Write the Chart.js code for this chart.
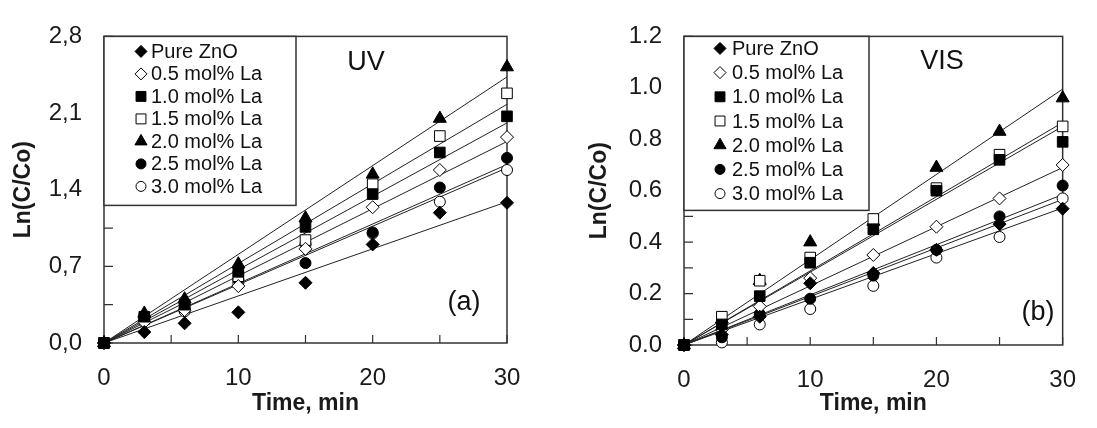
<!DOCTYPE html>
<html>
<head>
<meta charset="utf-8">
<script src="https://cdn.jsdelivr.net/npm/chart.js@4.4.0/dist/chart.umd.min.js"></script>
<style>
  html, body { margin: 0; padding: 0; background: #fff; }
  #wrap { position: relative; width: 1097px; height: 428px; }
  .panel { position: absolute; top: 0; height: 428px; }
</style>
</head>
<body>
<div id="wrap">
  <div class="panel" style="left:0;width:548px"><canvas id="uv"></canvas></div>
  <div class="panel" style="left:548px;width:549px"><canvas id="vis"></canvas></div>
</div>
<script>
// irradiation time, min
const times = [0, 3, 6, 10, 15, 20, 25, 30];
const seriesNames = ['Pure ZnO', '0.5 mol% La', '1.0 mol% La', '1.5 mol% La', '2.0 mol% La', '2.5 mol% La', '3.0 mol% La'];

// (a) UV, Ln(C/Co)
const uvPure = [0, 0.10, 0.18, 0.28, 0.55, 0.90, 1.19, 1.28];
const uv05   = [0, 0.19, 0.30, 0.52, 0.86, 1.24, 1.58, 1.88];
const uv10   = [0, 0.24, 0.35, 0.65, 1.06, 1.36, 1.74, 2.07];
const uv15   = [0, 0.22, 0.33, 0.61, 0.94, 1.45, 1.89, 2.28];
const uv20   = [0, 0.27, 0.40, 0.72, 1.14, 1.54, 2.05, 2.52];
const uv25   = [0, 0.23, 0.31, 0.58, 0.73, 1.01, 1.42, 1.69];
const uv30   = [0, 0.20, 0.29, 0.55, 0.90, 1.00, 1.29, 1.58];
// linear fits, value at 30 min
const uvFitEnd = [1.29, 1.84, 2.01, 2.18, 2.43, 1.63, 1.60];

// (b) VIS, Ln(C/Co)
const visPure = [0, 0.04, 0.11, 0.24, 0.28, 0.37, 0.47, 0.53];
const vis05   = [0, 0.06, 0.15, 0.26, 0.35, 0.46, 0.57, 0.70];
const vis10   = [0, 0.08, 0.19, 0.32, 0.45, 0.60, 0.72, 0.79];
const vis15   = [0, 0.11, 0.25, 0.34, 0.49, 0.61, 0.74, 0.85];
const vis20   = [0, 0.10, 0.25, 0.40, 0.48, 0.69, 0.83, 0.96];
const vis25   = [0, 0.03, 0.12, 0.18, 0.27, 0.37, 0.50, 0.62];
const vis30   = [0, 0.01, 0.08, 0.14, 0.23, 0.34, 0.42, 0.57];
const visFitEnd = [0.566, 0.69, 0.85, 0.865, 0.995, 0.585, 0.533];

// axis ticks (major + minor) and labels
const xTicks = [0, 5, 10, 15, 20, 25, 30];
const xLabels = ['0', '10', '20', '30'];
const uvYTicks = [0, 0.35, 0.7, 1.05, 1.4, 1.75, 2.1, 2.45, 2.8];
const uvYLabels = ['0,0', '0,7', '1,4', '2,1', '2,8'];
const visYTicks = [0, 0.1, 0.2, 0.3, 0.4, 0.5, 0.6, 0.7, 0.8, 0.9, 1.0, 1.1, 1.2];
const visYLabels = ['0.0', '0.2', '0.4', '0.6', '0.8', '1.0', '1.2'];

const markers = [
  { style: 'rectRot', fill: true, r: 6.5 },
  { style: 'rectRot', fill: false, r: 6.5 },
  { style: 'rect', fill: true, r: 7.5 },
  { style: 'rect', fill: false, r: 7.5 },
  { style: 'triangle', fill: true, r: 7.5 },
  { style: 'circle', fill: true, r: 5.5 },
  { style: 'circle', fill: false, r: 5.5 }
];

const FONT = '"Liberation Sans", Arial, sans-serif';
Chart.defaults.font.family = FONT;
Chart.defaults.color = '#1a1a1a';

const panelPlugin = {
  id: 'panel',
  beforeDatasetsDraw(chart, args, o) {
    const { ctx, chartArea: a, scales } = chart;
    ctx.save();
    ctx.strokeStyle = '#333';
    ctx.lineWidth = 1.5;
    ctx.strokeRect(a.left, a.top, a.right - a.left, a.bottom - a.top);
    ctx.lineWidth = 1.2;
    ctx.beginPath();
    scales.x.ticks.forEach(t => {
      const px = scales.x.getPixelForValue(t.value);
      ctx.moveTo(px, a.bottom);
      ctx.lineTo(px, a.bottom - 8);
    });
    scales.y.ticks.forEach(t => {
      const py = scales.y.getPixelForValue(t.value);
      ctx.moveTo(a.left, py);
      ctx.lineTo(a.left + 9, py);
    });
    ctx.stroke();
    ctx.restore();
  },
  afterDatasetsDraw(chart, args, o) {
    const { ctx, chartArea: a } = chart;
    const lg = o.legend;
    ctx.save();
    ctx.fillStyle = '#fff';
    ctx.fillRect(a.left, a.top, lg.w, lg.h);
    ctx.strokeStyle = '#333';
    ctx.lineWidth = 1.5;
    ctx.strokeRect(a.left, a.top, lg.w, lg.h);
    seriesNames.forEach((name, i) => {
      const m = markers[i];
      const y = a.top + lg.y0 + i * lg.step;
      ctx.fillStyle = m.fill ? '#000' : '#fff';
      ctx.strokeStyle = '#000';
      ctx.lineWidth = 1;
      Chart.helpers.drawPoint(ctx, { pointStyle: m.style, radius: m.r - 0.5, borderWidth: 1, rotation: 0 }, a.left + lg.mx, y);
      ctx.fillStyle = '#111';
      ctx.font = lg.size + 'px ' + FONT;
      ctx.textAlign = 'left';
      ctx.textBaseline = 'middle';
      ctx.fillText(name, a.left + lg.tx, y + 1);
    });
    ctx.font = '27px ' + FONT;
    ctx.textAlign = 'center';
    ctx.textBaseline = 'middle';
    ctx.fillStyle = '#111';
    o.notes.forEach(n => ctx.fillText(n.text, n.x, n.y));
    ctx.restore();
  }
};

function makePanel(id, p) {
  const datasets = [];
  p.series.forEach((vals, i) => {
    const m = markers[i];
    datasets.push({
      label: seriesNames[i],
      data: times.map((t, j) => ({ x: t, y: vals[j] })),
      showLine: false,
      pointStyle: m.style,
      pointRadius: m.r,
      pointBackgroundColor: m.fill ? '#000' : '#fff',
      pointBorderColor: '#000',
      pointBorderWidth: 1,
      clip: false,
      order: i === 2 ? -1 : 0
    });
  });
  p.fitEnd.forEach((v, i) => {
    datasets.push({
      label: seriesNames[i] + ' fit',
      data: [{ x: times[0], y: 0 }, { x: times[times.length - 1], y: v }],
      showLine: true,
      pointRadius: 0,
      borderColor: '#222',
      borderWidth: 1,
      order: 1
    });
  });

  new Chart(document.getElementById(id), {
    type: 'scatter',
    data: { datasets },
    options: {
      responsive: true,
      maintainAspectRatio: false,
      animation: false,
      layout: { padding: { top: 23, right: p.padRight, bottom: 0, left: 0 } },
      plugins: {
        legend: { display: false },
        tooltip: { enabled: false },
        panel: { legend: p.legend, notes: p.notes }
      },
      scales: {
        x: {
          type: 'linear',
          min: 0, max: 30,
          afterBuildTicks: s => { s.ticks = xTicks.map(v => ({ value: v })); },
          afterFit: s => { s.height = p.xHeight; },
          grid: { display: false, drawTicks: false },
          border: { display: false },
          ticks: {
            autoSkip: false, maxRotation: 0, padding: 21,
            font: { size: 24 },
            callback: (v, i) => i % 2 === 0 ? xLabels[i / 2] : ''
          },
          title: {
            display: true, text: 'Time, min',
            font: { size: 23, weight: 'bold' },
            padding: { top: 0, bottom: 11 }
          }
        },
        y: {
          type: 'linear',
          min: 0, max: p.yMax,
          afterBuildTicks: s => { s.ticks = p.yTicks.map(v => ({ value: v })); },
          afterFit: s => { s.width = p.yWidth; },
          grid: { display: false, drawTicks: false },
          border: { display: false },
          ticks: {
            autoSkip: false, padding: 22,
            font: { size: 24 },
            callback: (v, i) => i % p.yEvery === 0 ? p.yLabels[i / p.yEvery] : ''
          },
          title: {
            display: true, text: 'Ln(C/Co)',
            font: { size: 23, weight: 'bold' },
            padding: { top: p.yTitlePad, bottom: 0 }
          }
        }
      }
    },
    plugins: [panelPlugin]
  });
}

makePanel('uv', {
  series: [uvPure, uv05, uv10, uv15, uv20, uv25, uv30],
  fitEnd: uvFitEnd,
  yMax: 2.8, yTicks: uvYTicks, yLabels: uvYLabels, yEvery: 2,
  yWidth: 104, yTitlePad: 10, xHeight: 85, padRight: 41,
  legend: { w: 192, h: 169, y0: 15, step: 22.5, mx: 37, tx: 47, size: 20 },
  notes: [{ text: 'UV', x: 366, y: 63 }, { text: '(a)', x: 464, y: 303 }]
});

makePanel('vis', {
  series: [visPure, vis05, vis10, vis15, vis20, vis25, vis30],
  fitEnd: visFitEnd,
  yMax: 1.2, yTicks: visYTicks, yLabels: visYLabels, yEvery: 2,
  yWidth: 136, yTitlePad: 38, xHeight: 83, padRight: 15,
  legend: { w: 185, h: 174, y0: 12, step: 24.2, mx: 36, tx: 48, size: 20 },
  notes: [{ text: 'VIS', x: 394, y: 62 }, { text: '(b)', x: 490, y: 313 }]
});
</script>
</body>
</html>
